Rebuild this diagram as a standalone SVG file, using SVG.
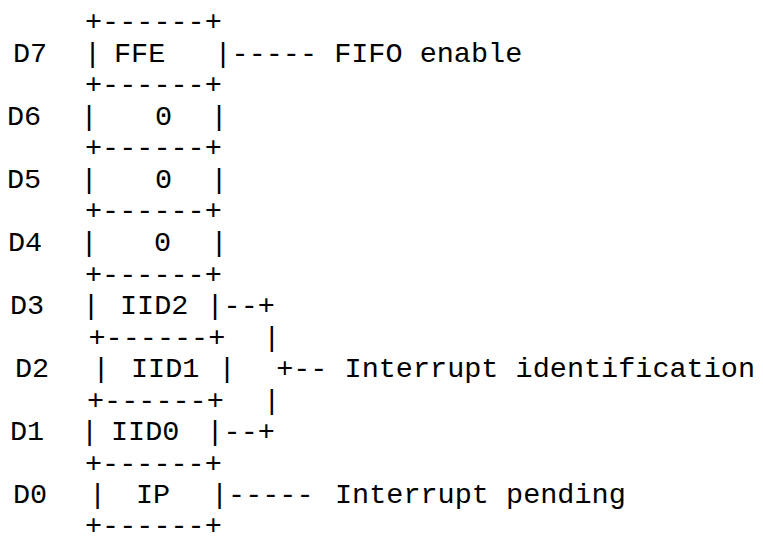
<svg xmlns="http://www.w3.org/2000/svg" width="763" height="537" viewBox="0 0 763 537">
  <style>
    text { font-family: "Liberation Mono", "Courier New", monospace; font-size: 28.5px; fill: #000; white-space: pre; }
    .m { text-anchor: middle; }
  </style>
  <rect width="763" height="537" fill="#fff"/>
  <g id="borders">
    <text x="85" y="30">+------+</text>
    <text x="85" y="93.1">+------+</text>
    <text x="85" y="156.2">+------+</text>
    <text x="85" y="219.4">+------+</text>
    <text x="85" y="282.5">+------+</text>
    <text x="88.5" y="345.6">+------+</text>
    <text x="87" y="408.7">+------+</text>
    <text x="85" y="471.8">+------+</text>
    <text x="85" y="533.5">+------+</text>
  </g>
  <g id="bit-d7">
    <text x="13" y="61.6">D7</text>
    <text class="m" x="92.5" y="61.6">|</text>
    <text x="114" y="61.6">FFE</text>
    <text class="m" x="223" y="61.6">|</text>
  </g>
  <g id="bit-d6">
    <text x="7" y="124.7">D6</text>
    <text class="m" x="89" y="124.7">|</text>
    <text class="m" x="163.5" y="124.7">0</text>
    <text class="m" x="219" y="124.7">|</text>
  </g>
  <g id="bit-d5">
    <text x="7" y="187.8">D5</text>
    <text class="m" x="89" y="187.8">|</text>
    <text class="m" x="163.5" y="187.8">0</text>
    <text class="m" x="219" y="187.8">|</text>
  </g>
  <g id="bit-d4">
    <text x="8" y="250.9">D4</text>
    <text class="m" x="89" y="250.9">|</text>
    <text class="m" x="162.5" y="250.9">0</text>
    <text class="m" x="219" y="250.9">|</text>
  </g>
  <g id="bit-d3">
    <text x="10" y="314">D3</text>
    <text class="m" x="91" y="314">|</text>
    <text x="120" y="314">IID2</text>
    <text class="m" x="215" y="314">|</text>
  </g>
  <g id="bit-d2">
    <text x="15" y="377.2">D2</text>
    <text class="m" x="101" y="377.2">|</text>
    <text x="131" y="377.2">IID1</text>
    <text class="m" x="227" y="377.2">|</text>
  </g>
  <g id="bit-d1">
    <text x="10" y="440.3">D1</text>
    <text class="m" x="89.5" y="440.3">|</text>
    <text x="111" y="440.3">IID0</text>
    <text class="m" x="215" y="440.3">|</text>
  </g>
  <g id="bit-d0">
    <text x="13" y="503.4">D0</text>
    <text class="m" x="97.5" y="503.4">|</text>
    <text x="136" y="503.4">IP</text>
    <text class="m" x="219.5" y="503.4">|</text>
  </g>
  <g id="connectors">
    <text x="231.55" y="61.6">-----</text>
    <text x="223.55" y="314">--+</text>
    <text class="m" x="271.7" y="345.6">|</text>
    <text x="276.15" y="377.2">+--</text>
    <text class="m" x="271.7" y="408.7">|</text>
    <text x="223.55" y="440.3">--+</text>
    <text x="228.05" y="503.4">-----</text>
  </g>
  <g id="labels">
    <text x="334.15" y="61.6">FIFO enable</text>
    <text x="344.55" y="377.2">Interrupt identification</text>
    <text x="335" y="503.4">Interrupt pending</text>
  </g>
</svg>
